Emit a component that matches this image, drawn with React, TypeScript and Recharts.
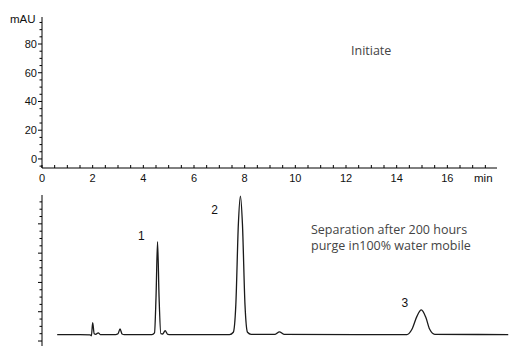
import React from "react";
import { LineChart, Line, XAxis, YAxis, ReferenceDot } from "recharts";

// retention time (min) / absorbance (mAU)
const times = [
  0.6, 1.5, 1.9, 1.95, 2.0, 2.06, 2.12, 2.22, 2.3, 2.9, 3.0, 3.08, 3.16, 3.25,
  4.34, 4.44, 4.5, 4.56, 4.62, 4.69, 4.76, 4.86, 4.96, 5.1, 7.4, 7.55, 7.65,
  7.75, 7.83, 7.91, 8.01, 8.11, 8.25, 9.2, 9.37, 9.55, 14.4, 14.6, 14.8, 14.97,
  15.15, 15.3, 15.5, 18.4,
];
const absorbance = [
  4.4, 4.4, 4.2, 3.6, 12.5, 5.0, 4.6, 5.6, 4.4, 4.4, 5.0, 8.2, 4.8, 4.4, 4.4,
  5.5, 30, 67.8, 30, 5.0, 4.8, 7.0, 4.6, 4.4, 4.4, 6.0, 25, 80, 99, 80, 25, 6.0,
  4.6, 4.6, 6.3, 4.6, 4.4, 8, 17, 21.2, 16, 8, 4.6, 4.4,
];

const xTicks = [
  0, 0.5, 1, 1.5, 2, 2.5, 3, 3.5, 4, 4.5, 5, 5.5, 6, 6.5, 7, 7.5, 8, 8.5, 9,
  9.5, 10, 10.5, 11, 11.5, 12, 12.5, 13, 13.5, 14, 14.5, 15, 15.5, 16, 16.5, 17,
  17.5,
];
const yTicks = [
  -5, 0, 5, 10, 15, 20, 25, 30, 35, 40, 45, 50, 55, 60, 65, 70, 75, 80, 85, 90,
  95,
];
const yTicksLower = [
  0, 5, 10, 15, 20, 25, 30, 35, 40, 45, 50, 55, 60, 65, 70, 75, 80, 85, 90, 95,
];

const peakNames = ["1", "2", "3"];
const peakLabelTime = [3.92, 6.81, 14.32];
const peakLabelValue = [71.7, 89.9, 26.1];

const trace = times.map((t, i) => ({ t, v: absorbance[i] }));

const font = "'Liberation Sans', Arial, sans-serif";

const XTick = (props: any) => {
  const { x, y, payload } = props;
  const major = payload.value % 2 === 0;
  return (
    <g>
      <line x1={x} x2={x} y1={y} y2={y - 3} stroke="#000" />
      {major && (
        <text x={x} y={y + 14} textAnchor="middle" fontSize={11} fill="#111" fontFamily={font}>
          {payload.value}
        </text>
      )}
    </g>
  );
};

const makeYTick = (labels: boolean) => (props: any) => {
  const { x, y, payload } = props;
  const major = payload.value % 20 === 0;
  return (
    <g>
      <line x1={x - (major ? 4 : 2.5)} x2={x} y1={y} y2={y} stroke="#000" />
      {labels && major && (
        <text x={x - 5} y={y + 4} textAnchor="end" fontSize={11} fill="#111" fontFamily={font}>
          {payload.value}
        </text>
      )}
    </g>
  );
};

const App = () => {
  return (
    <div style={{ position: "absolute", left: 0, top: 0, width: 511, height: 347, background: "#fff" }}>
      {/* upper panel: axes only */}
      <div style={{ position: "absolute", left: 0, top: 0 }}>
        <LineChart width={511} height={190} data={trace} margin={{ top: 17, right: 14, bottom: 2, left: 0 }}>
          <XAxis
            dataKey="t"
            type="number"
            domain={[0, 17.96]}
            ticks={xTicks}
            interval={0}
            tickSize={0}
            tickMargin={0}
            tickLine={false}
            tick={<XTick />}
            height={20}
            stroke="#000"
            allowDataOverflow
          />
          <YAxis
            type="number"
            domain={[-6.3, 98.8]}
            ticks={yTicks}
            interval={0}
            tickSize={0}
            tickMargin={0}
            tickLine={false}
            tick={makeYTick(true)}
            width={42}
            stroke="#000"
            allowDataOverflow
          />
        </LineChart>
      </div>

      {/* lower panel: chromatogram */}
      <div style={{ position: "absolute", left: 0, top: 185 }}>
        <LineChart width={511} height={162} data={trace} margin={{ top: 10, right: 2, bottom: 1, left: 0 }}>
          <XAxis dataKey="t" type="number" domain={[0, 18.43]} hide allowDataOverflow />
          <YAxis
            type="number"
            domain={[-3.4, 99.7]}
            ticks={yTicksLower}
            interval={0}
            tickSize={0}
            tickMargin={0}
            tickLine={false}
            tick={makeYTick(false)}
            width={42}
            stroke="#000"
            allowDataOverflow
          />
          <Line
            type="monotone"
            dataKey="v"
            stroke="#1a1a1a"
            strokeWidth={1.3}
            dot={false}
            isAnimationActive={false}
          />
          {peakNames.map((name, i) => (
            <ReferenceDot
              key={name}
              x={peakLabelTime[i]}
              y={peakLabelValue[i]}
              r={0}
              ifOverflow="visible"
              label={{ value: name, position: "center", fontSize: 12, fill: "#111", fontFamily: font }}
            />
          ))}
        </LineChart>
      </div>

      <div style={{ position: "absolute", left: 10, top: 12, fontSize: 11.5, fontFamily: font, color: "#111", lineHeight: "14px" }}>
        mAU
      </div>
      <div style={{ position: "absolute", left: 474, top: 171, fontSize: 11.5, fontFamily: font, color: "#111", lineHeight: "14px" }}>
        min
      </div>
      <div style={{ position: "absolute", left: 351, top: 43, fontSize: 12.5, fontFamily: "'Open Sans', sans-serif", color: "#444", lineHeight: "16px" }}>
        Initiate
      </div>
      <div style={{ position: "absolute", left: 311, top: 222, fontSize: 12.5, fontFamily: "'Open Sans', sans-serif", color: "#444", lineHeight: "16px" }}>
        Separation after 200 hours
        <br />
        purge in100% water mobile
      </div>
    </div>
  );
};

export default App;
